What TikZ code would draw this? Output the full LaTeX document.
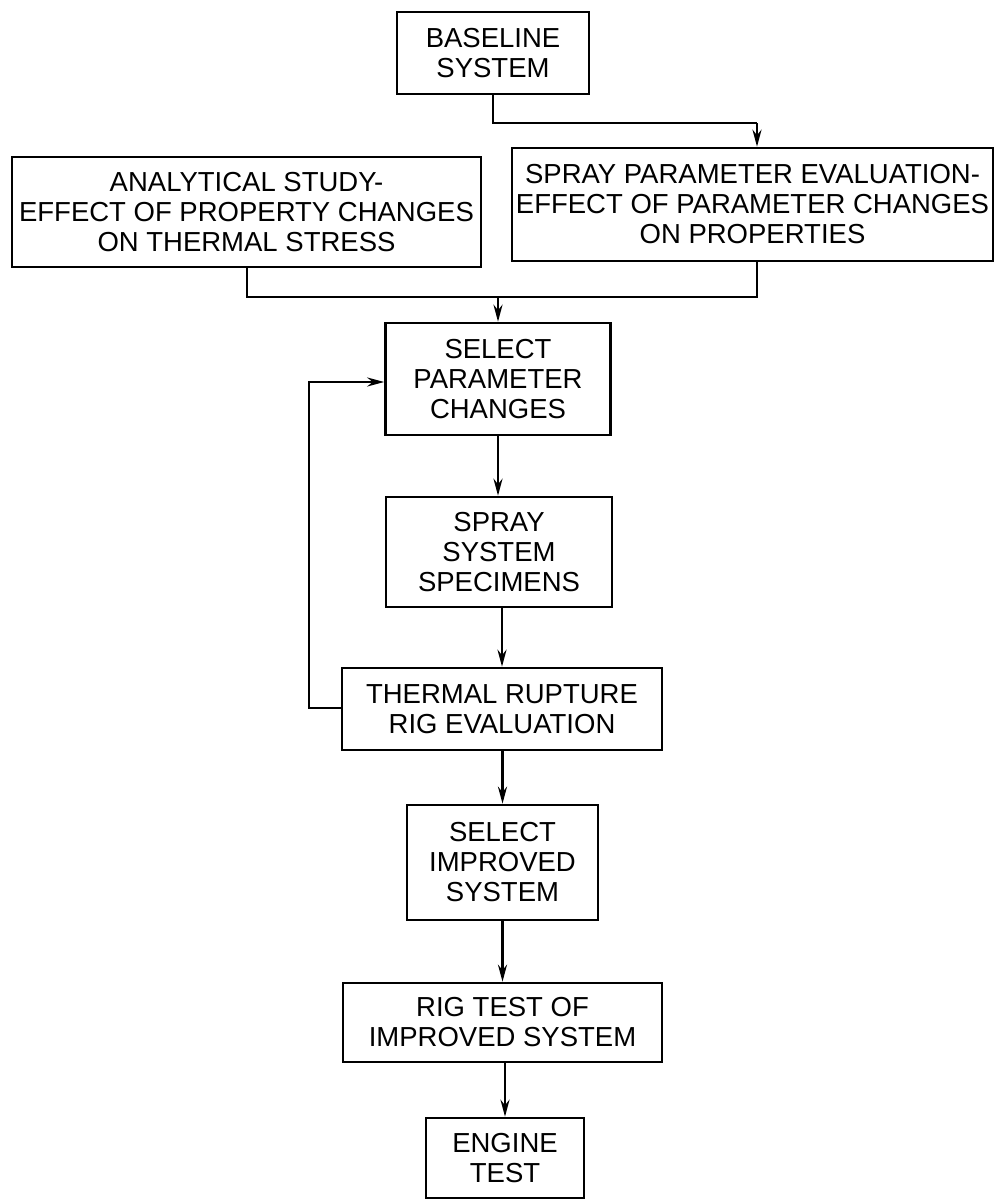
\documentclass[tikz,border=0pt]{standalone}
\usepackage{fontspec}
\setmainfont{Liberation Sans}
\usetikzlibrary{arrows.meta}
\begin{document}
\begin{tikzpicture}[x=1pt,y=-1pt,
  box/.style={draw, line width=2.6pt, align=center, inner sep=0pt,
    font=\fontsize{27.5}{30}\selectfont},
  conn/.style={line width=2.6pt},
  arr/.style={line width=2.6pt, -{Stealth[length=17pt,width=9pt]}}]
\useasboundingbox (0,0) rectangle (996,1199);
\node[box, minimum width=192pt, minimum height=82pt] (base) at (493,53) {BASELINE\\SYSTEM};
\node[box, minimum width=469pt, minimum height=110pt] (anal) at (246.5,212) {ANALYTICAL STUDY-\\EFFECT OF PROPERTY CHANGES\\ON THERMAL STRESS};
\node[box, minimum width=481pt, minimum height=113pt] (spe) at (752.5,204.5) {SPRAY PARAMETER EVALUATION-\\EFFECT OF PARAMETER CHANGES\\ON PROPERTIES};
\node[box, minimum width=225pt, minimum height=112pt] (selp) at (498,379) {SELECT\\PARAMETER\\CHANGES};
\node[box, minimum width=226pt, minimum height=110pt] (ssp) at (499,552) {SPRAY\\SYSTEM\\SPECIMENS};
\node[box, minimum width=320pt, minimum height=82pt] (trr) at (502,709) {THERMAL RUPTURE\\RIG EVALUATION};
\node[box, minimum width=191pt, minimum height=115pt] (sis) at (502.5,862.5) {SELECT\\IMPROVED\\SYSTEM};
\node[box, minimum width=319pt, minimum height=79pt] (rig) at (502.5,1022.5) {RIG TEST OF\\IMPROVED SYSTEM};
\node[box, minimum width=158pt, minimum height=80pt, text depth=0pt] (eng) at (505,1158) {ENGINE\\TEST};
% connectors
\coordinate (b1) at (493,123);
\coordinate (b2) at (757,123);
\draw[conn] (base.south -| b1) -- (b1) -- (b2);
\draw[arr] (b2) -- (b2 |- spe.north);
\coordinate (j1) at (247,297);
\coordinate (j2) at (757,297);
\coordinate (j3) at (498,297);
\draw[conn] (anal.south -| j1) -- (j1) -- (j2) -- (spe.south -| j2);
\draw[arr] (j3) -- (selp.north);
\draw[arr] (selp.south) -- (selp.south |- ssp.north);
\draw[arr] (ssp.south -| trr.north) -- (trr.north);
\coordinate (l1) at (309,708);
\coordinate (l2) at (309,382);
\draw[arr] (trr.west |- l1) -- (l1) -- (l2) -- (selp.west |- l2);
\draw[arr] (trr.south -| sis.north) -- (sis.north);
\draw[arr] (sis.south) -- (rig.north);
\draw[arr] (rig.south -| eng.north) -- (eng.north);
\end{tikzpicture}
\end{document}
